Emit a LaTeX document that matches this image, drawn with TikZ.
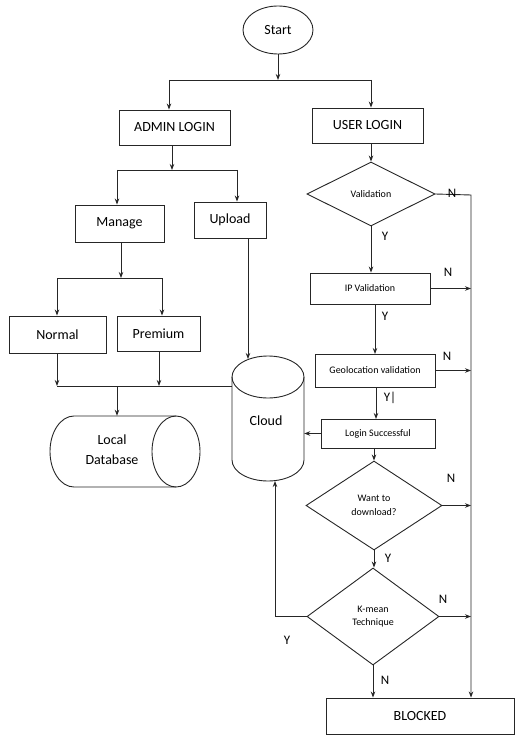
\documentclass[tikz,border=0pt]{standalone}
\usepackage{fontspec}
\setmainfont{Carlito}
\usetikzlibrary{shapes.geometric,arrows.meta}
\begin{document}
\begin{tikzpicture}[x=1pt,y=-1pt,
  ln/.style={line width=0.9pt,draw=black!85},
  arr/.style={ln,-{Stealth[length=6pt,width=4.5pt]}},
  big/.style={font=\fontsize{14}{16}\selectfont},
  small/.style={font=\fontsize{10}{11.5}\selectfont},
  box/.style={ln,rectangle,inner sep=0pt,big},
  sbox/.style={ln,rectangle,inner sep=0pt,small},
  dia/.style={ln,diamond,inner sep=0pt,small,align=center},
  lab/.style={font=\fontsize{13}{15}\selectfont,inner sep=0pt}]
\useasboundingbox (0,0) rectangle (515,735);

% nodes
\node[ln,ellipse,minimum width=70pt,minimum height=48pt,inner sep=0pt,big] (start) at (278,30) {Start};
\node[box,minimum width=111pt,minimum height=35pt] (admin) at (174.5,127.5) {ADMIN LOGIN};
\node[box,minimum width=111pt,minimum height=35pt] (user) at (367.5,125.5) {USER LOGIN};
\node[box,minimum width=89pt,minimum height=37pt] (manage) at (119.5,223.5) {Manage};
\node[box,minimum width=72pt,minimum height=36pt] (upload) at (230,220) {Upload};
\node[box,minimum width=97pt,minimum height=37pt] (normal) at (57.5,334.5) {Normal};
\node[box,minimum width=83pt,minimum height=35pt] (premium) at (158.5,333.5) {Premium};

\node[dia,minimum width=128pt,minimum height=64pt] (valid) at (371,194) {Validation};
\node[sbox,minimum width=120pt,minimum height=31pt] (ip) at (370,288.5) {IP Validation};
\node[sbox,minimum width=120pt,minimum height=33pt] (geo) at (375,370.5) {Geolocation validation};
\node[sbox,minimum width=114pt,minimum height=29pt] (login) at (378,433.5) {Login Successful};
\node[dia,minimum width=136pt,minimum height=89pt] (want) at (374,505.5) {Want to\\[2pt]download?};
\node[dia,minimum width=132pt,minimum height=97pt] (kmean) at (373,616.5) {K-mean\\[2pt]Technique};
\node[box,minimum width=188pt,minimum height=36pt] (blocked) at (420,716) {BLOCKED};

% cloud cylinder (vertical)
\node[inner sep=0pt,minimum width=72pt,minimum height=126pt] (cloud) at (268,418) {};
\draw[ln] (232,377) -- (232,460) arc[start angle=180,end angle=0,x radius=36,y radius=21] -- (304,377);
\draw[ln] (268,377) ellipse [x radius=36,y radius=21];
\node[big] at (266,421) {Cloud};

% local database cylinder (horizontal)
\node[inner sep=0pt,minimum width=150pt,minimum height=71pt] (local) at (125,451.5) {};
\draw[ln] (176,416) -- (74,416) arc[start angle=270,end angle=90,x radius=24,y radius=35.5] -- (176,487);
\draw[ln] (176,451.5) ellipse [x radius=24,y radius=35.5];
\node[big,align=center] at (112,450) {Local\\[4pt]Database};

% junction coordinates
\coordinate (j0M) at (277,80);
\coordinate (j0L) at (169,80);
\coordinate (j0R) at (371,80);
\coordinate (j1M) at (172,170);
\coordinate (j1L) at (117,170);
\coordinate (j1R) at (237,170);
\coordinate (j2M) at (121,278);
\coordinate (j2L) at (57,278);
\coordinate (j2R) at (162,278);
\coordinate (j3L) at (57,386);
\coordinate (j3P) at (159,386);
\coordinate (j3M) at (117,386);
\coordinate (j3E) at (232,386);
\coordinate (uc) at (248,359);
\coordinate (rr) at (471,195);
\coordinate (cb) at (275,481);

% admin side
\draw[arr] (start.south) -- (start.south |- j0M);
\draw[ln] (j0L) -- (j0R);
\draw[arr] (j0L) -- (j0L |- admin.north);
\draw[arr] (j0R) -- (j0R |- user.north);
\draw[arr] (j1M |- admin.south) -- (j1M);
\draw[ln] (j1L) -- (j1R);
\draw[arr] (j1L) -- (j1L |- manage.north);
\draw[arr] (j1R) -- (j1R |- upload.north);
\draw[arr] (j2M |- manage.south) -- (j2M);
\draw[ln] (j2L) -- (j2R);
\draw[arr] (j2L) -- (j2L |- normal.north);
\draw[arr] (j2R) -- (j2R |- premium.north);
\draw[arr] (j3L |- normal.south) -- (j3L);
\draw[arr] (j3P |- premium.south) -- (j3P);
\draw[ln] (j3L) -- (j3E);
\draw[arr] (j3M) -- (j3M |- local.north);
\draw[arr] (uc |- upload.south) -- (uc);

% user side
\draw[arr] (valid.north |- user.south) -- (valid.north);
\draw[arr] (valid.east) -- (rr) -- (rr |- blocked.north);
\draw[arr] (valid.south) -- (valid.south |- ip.north);
\draw[arr] (ip.east) -- (rr |- ip.east);
\draw[arr] (375,304) -- (375,354);
\draw[arr] (geo.east) -- (rr |- geo.east);
\draw[arr] (376,387) -- (376,419);
\draw[arr] (login.west) -- (cloud.east |- login.west);
\draw[arr] (want.north |- login.south) -- (want.north);
\draw[arr] (want.east) -- (rr |- want.east);
\draw[arr] (want.south) -- (want.south |- kmean.north);
\draw[arr] (kmean.east) -- (rr |- kmean.east);
\draw[arr] (kmean.south) -- (kmean.south |- blocked.north);
\draw[arr] (kmean.west) -- (cb |- kmean.west) -- (cb);

% labels
\node[lab] at (452,193) {N};
\node[lab] at (385,236) {Y};
\node[lab] at (448,272) {N};
\node[lab] at (385,316) {Y};
\node[lab] at (447,356) {N};
\node[lab] at (390,398) {Y|};
\node[lab] at (451,478) {N};
\node[lab] at (388,558) {Y};
\node[lab] at (443,599) {N};
\node[lab] at (287,640) {Y};
\node[lab] at (385,680) {N};
\end{tikzpicture}
\end{document}
